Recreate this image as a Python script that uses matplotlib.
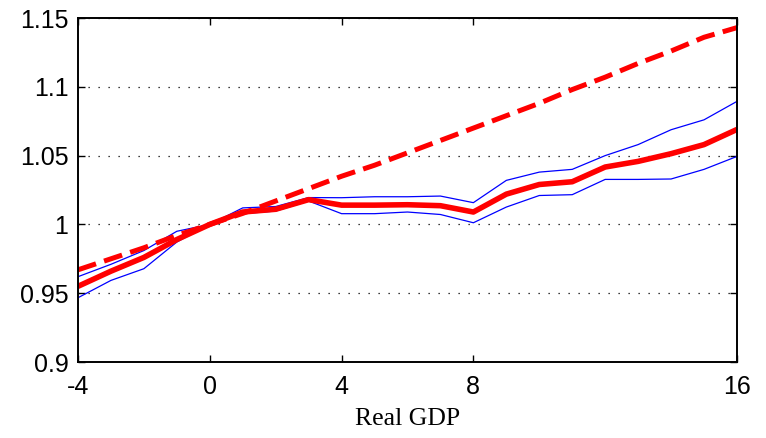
import numpy as np
import matplotlib.pyplot as plt

# quarters after the shock
quarters = list(range(-4, 17))

# trend path (dashed)
trend = [0.967, 0.975, 0.983, 0.992, 1.000, 1.008, 1.017, 1.026, 1.035, 1.043,
         1.052, 1.061, 1.070, 1.079, 1.088, 1.098, 1.107, 1.117, 1.126, 1.136, 1.143]

# median response (thick red)
median = [0.955, 0.966, 0.976, 0.989, 1.000, 1.009, 1.011, 1.018, 1.014, 1.014,
          1.0143, 1.0136, 1.009, 1.022, 1.029, 1.031, 1.0417, 1.0458, 1.0514, 1.058, 1.069]

# error bands (thin blue)
upper = [0.962, 0.971, 0.981, 0.995, 1.000, 1.012, 1.013, 1.0195, 1.0194, 1.0201,
         1.0201, 1.0206, 1.0158, 1.032, 1.038, 1.040, 1.050, 1.058, 1.0688, 1.076, 1.0894]
lower = [0.9467, 0.9593, 0.9678, 0.9872, 1.000, 1.0078, 1.0097, 1.017, 1.0078, 1.0078,
         1.009, 1.0072, 1.0012, 1.0126, 1.021, 1.0216, 1.0327, 1.0327, 1.033, 1.040, 1.0494]

xticks = [-4, 0, 4, 8, 16]
yticks = [0.9, 0.95, 1.0, 1.05, 1.1, 1.15]
yticklabels = ["0.9", "0.95", "1", "1.05", "1.1", "1.15"]

fig = plt.figure(figsize=(7.66, 4.38), dpi=100)
ax = fig.add_axes([0.1018, 0.1735, 0.8603, 0.7854])

ax.plot(quarters, upper, color="blue", lw=0.9)
ax.plot(quarters, lower, color="blue", lw=0.9)
ax.plot(quarters, median, color="red", lw=4.0, solid_capstyle="butt")
ax.plot(quarters, trend, color="red", lw=3.6, dashes=(3.8, 1.7))

ax.set_xlim(-4, 16)
ax.set_ylim(0.9, 1.15)
ax.set_xticks(xticks)
ax.set_xticklabels([str(t) for t in xticks], fontsize=18, family="Liberation Sans")
ax.set_yticks(yticks)
ax.set_yticklabels(yticklabels, fontsize=18, family="Liberation Sans")
ax.tick_params(direction="in", top=True, right=True, length=5, width=1)
ax.tick_params(axis="x", pad=9)
ax.tick_params(axis="y", pad=7)
ax.yaxis.grid(True, linestyle=(0, (1, 7)), color="black", lw=0.9)
for s in ax.spines.values():
    s.set_linewidth(1.4)

ax.set_xlabel("Real GDP", fontsize=18.5, family="Liberation Serif", labelpad=7)

fig.savefig("out.png", dpi=100)
